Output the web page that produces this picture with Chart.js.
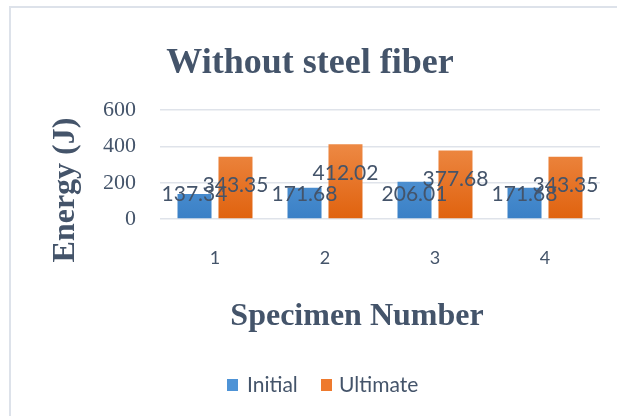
<!DOCTYPE html>
<html>
<head>
<meta charset="utf-8">
<script src="https://cdn.jsdelivr.net/npm/chart.js@4"></script>
<style>
  html, body { margin: 0; padding: 0; background: #ffffff; }
  #frame { position: absolute; left: 9px; top: 6px; width: 640px; height: 440px;
           border: 2px solid #dde2ea; box-sizing: border-box; }
  #wrap { position: absolute; left: 0; top: 0; width: 617px; height: 416px; }
</style>
</head>
<body>
<div id="frame"></div>
<div id="wrap"><canvas id="c" width="617" height="416"></canvas></div>
<script>
const categories = ['1', '2', '3', '4'];
const initialValues = [137.34, 171.68, 206.01, 171.68];
const ultimateValues = [343.35, 412.02, 377.68, 343.35];
const yTicks = [0, 200, 400, 600];
const seriesNames = ['Initial', 'Ultimate'];
const chartTitle = 'Without steel fiber';
const xTitle = 'Specimen Number';
const yTitle = 'Energy (J)';

const textColor = '#44546a';
const legendColors = ['#4e93d6', '#ee7a2e'];

function grad(ctx, top, bottom) {
  const c = ctx.chart;
  const area = c.chartArea;
  if (!area) return bottom;
  const g = c.ctx.createLinearGradient(0, area.top, 0, area.bottom);
  g.addColorStop(0, top);
  g.addColorStop(1, bottom);
  return g;
}

const extrasPlugin = {
  id: 'extras',
  afterDatasetsDraw(chart) {
    const ctx = chart.ctx;
    const yScale = chart.scales.y;
    const area = chart.chartArea;
    ctx.save();
    // value labels
    ctx.font = '21px Lato';
    ctx.fillStyle = textColor;
    ctx.textAlign = 'center';
    ctx.textBaseline = 'middle';
    chart.data.datasets.forEach((ds, di) => {
      const meta = chart.getDatasetMeta(di);
      meta.data.forEach((bar, i) => {
        let y;
        if (di === 0) y = yScale.getPixelForValue(0) - 25;
        else y = bar.y + 28.5;
        ctx.fillText(ds.data[i].toFixed(2), bar.x, y);
      });
    });
    // axis titles
    ctx.font = 'bold 32px "Liberation Serif"';
    ctx.fillText(xTitle, 357, area.bottom + 98);
    ctx.save();
    ctx.translate(66, 190);
    ctx.rotate(-Math.PI / 2);
    ctx.fillText(yTitle, 0, 0);
    ctx.restore();
    // legend
    const legendY = 385;
    const boxX = [227, 321];
    const textX = [247, 339];
    ctx.font = '21px Lato';
    ctx.textAlign = 'left';
    seriesNames.forEach((name, i) => {
      ctx.fillStyle = legendColors[i];
      ctx.fillRect(boxX[i], legendY - 6, 11, 12);
      ctx.fillStyle = textColor;
      ctx.fillText(name, textX[i], legendY);
    });
    ctx.restore();
  }
};

new Chart(document.getElementById('c'), {
  type: 'bar',
  data: {
    labels: categories,
    datasets: [
      {
        label: seriesNames[0],
        data: initialValues,
        backgroundColor: (ctx) => grad(ctx, '#6eaae2', '#3a80c6'),
        categoryPercentage: 0.745,
        barPercentage: 0.83
      },
      {
        label: seriesNames[1],
        data: ultimateValues,
        backgroundColor: (ctx) => grad(ctx, '#f39a5c', '#e0620e'),
        categoryPercentage: 0.745,
        barPercentage: 0.83
      }
    ]
  },
  plugins: [extrasPlugin],
  options: {
    responsive: false,
    animation: false,
    layout: { padding: { left: 20, right: 17, top: 0, bottom: 59 } },
    plugins: {
      title: {
        display: true,
        text: chartTitle,
        color: textColor,
        font: { family: 'Liberation Serif', size: 36, weight: 'bold', lineHeight: 1.2 },
        padding: { top: 42, bottom: 25 }
      },
      legend: { display: false },
      tooltip: { enabled: false }
    },
    scales: {
      x: {
        afterFit: (axis) => { axis.height = 138; },
        grid: { display: false, drawTicks: false },
        border: { display: false },
        ticks: { color: textColor, font: { family: 'Lato', size: 18 }, padding: 28 }
      },
      y: {
        min: 0,
        max: 600,
        afterBuildTicks: (axis) => { axis.ticks = yTicks.map(v => ({ value: v })); },
        afterFit: (axis) => { axis.width = 140; },
        grid: { color: '#dfe3ea', lineWidth: 1.5, drawTicks: false },
        border: { display: false },
        ticks: { color: textColor, font: { family: 'Liberation Serif', size: 22 }, padding: 24, autoSkip: false }
      }
    }
  }
});
</script>
</body>
</html>
